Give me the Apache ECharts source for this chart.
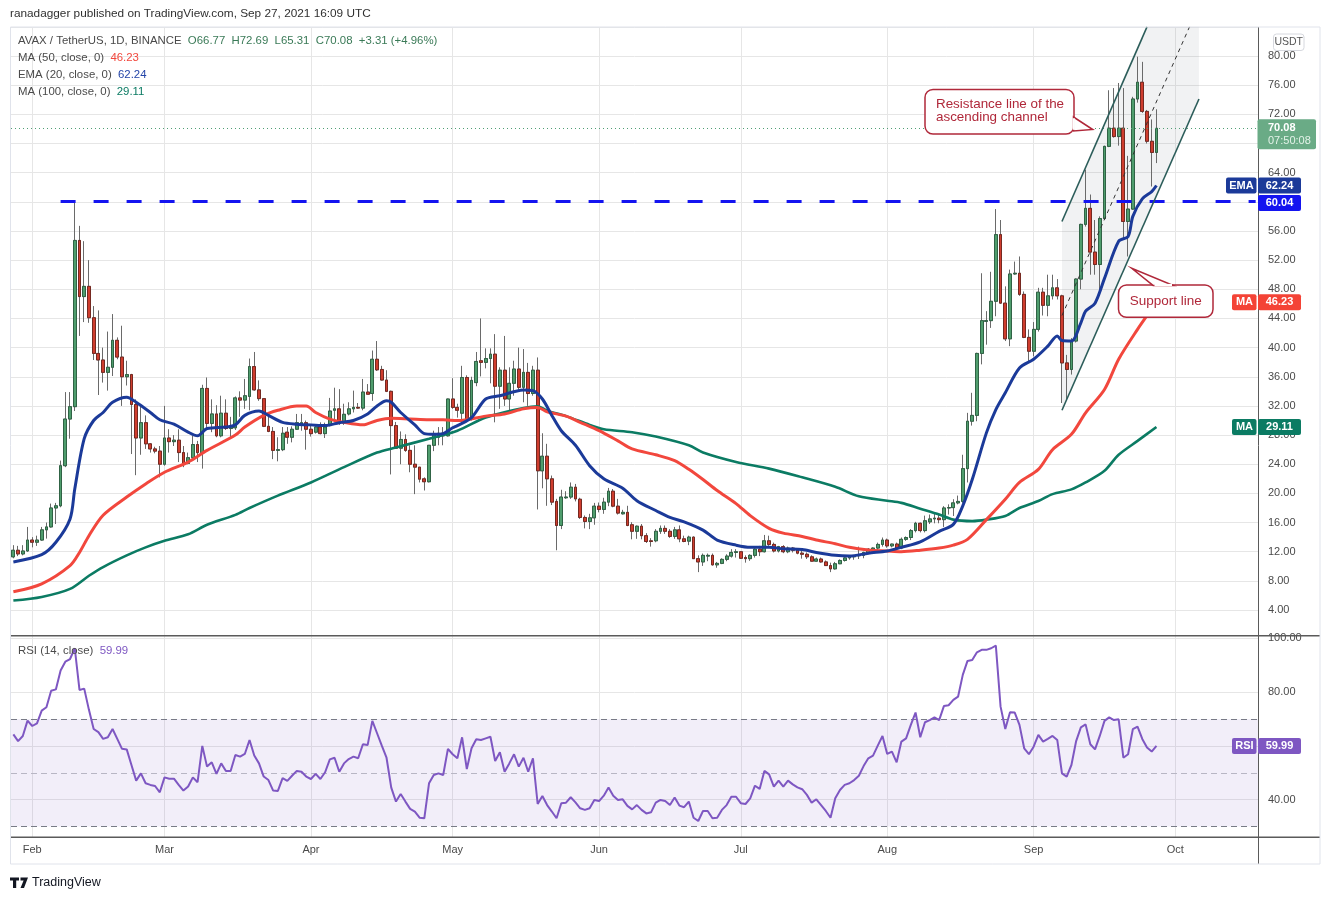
<!DOCTYPE html>
<html>
<head>
<meta charset="utf-8">
<title>AVAX / TetherUS 1D</title>
<script src="https://cdn.jsdelivr.net/npm/echarts/dist/echarts.min.js"></script>
<style>html,body{margin:0;padding:0;background:#fff;}#chart{width:1330px;height:900px;}</style>
</head>
<body>
<div id="chart"></div>
<script>
// ---------------- DATA ----------------
const symbolTitle = 'AVAX / TetherUS, 1D, BINANCE';
const publishedText = 'ranadagger published on TradingView.com, Sep 27, 2021 16:09 UTC';
const firstDate = '2021-01-28';
const lastAxisDate = '2021-10-18';
const monthNames = ['Jan','Feb','Mar','Apr','May','Jun','Jul','Aug','Sep','Oct','Nov','Dec'];

// candles: [open, close, low, high]
const candlesJan = [[11.3,12.2,11.1,12.9],[12.2,11.7,11.4,12.8],[11.7,12.1,11.5,12.9],[12.1,13.6,12.0,15.4]];
const candlesFeb = [
 [13.6,13.3,12.6,14.0],[13.3,13.6,12.8,14.2],[13.6,15.0,13.5,15.4],[15.0,15.4,13.8,16.0],[15.4,18.0,15.3,18.6],
 [18.0,18.3,15.8,18.7],[18.3,23.8,18.1,24.5],[23.8,30.2,23.6,33.9],[30.2,31.9,27.5,33.9],[31.9,54.7,31.3,60.04],
 [54.7,47.0,41.6,56.7],[47.0,48.4,43.5,54.6],[48.4,44.1,43.4,52.0],[44.1,39.2,38.3,45.7],[39.2,38.3,33.5,45.1],
 [38.3,36.6,35.2,40.0],[36.6,37.3,34.1,42.2],[37.3,41.0,36.1,44.6],[41.0,38.7,38.4,41.4],[38.7,36.0,32.0,43.0],
 [36.0,36.3,34.8,38.2],[36.3,32.2,25.4,36.4],[32.2,27.6,22.5,32.9],[27.6,29.7,25.3,32.0],[29.7,26.8,26.1,30.7],
 [26.8,26.1,25.6,26.9],[26.1,25.8,25.5,26.4],[25.8,24.0,22.2,26.5]];
const candlesMar = [
 [24.0,27.6,23.8,32.0],[27.6,27.1,25.6,28.8],[27.1,27.3,26.5,28.0],[27.3,25.6,24.3,28.8],[25.6,24.1,23.6,26.5],
 [24.1,24.9,24.0,25.6],[24.9,26.7,24.5,27.9],[26.7,25.6,24.3,27.2],[25.6,34.4,23.4,34.9],[34.4,29.6,28.9,35.9],
 [29.6,30.9,28.4,32.9],[30.9,27.9,27.7,32.1],[27.9,31.0,27.7,33.4],[31.0,28.9,28.7,32.9],[28.9,29.2,27.5,30.5],
 [29.0,33.1,28.7,33.3],[33.1,32.8,30.5,34.0],[32.8,33.4,31.6,35.7],[33.3,37.4,31.4,38.5],[37.4,34.2,34.1,39.4],
 [34.2,33.0,32.7,35.5],[33.0,29.2,29.1,33.0],[29.2,28.5,28.4,30.9],[28.5,25.9,24.7,29.1],[25.9,26.0,24.4,27.7],
 [26.0,28.25,25.8,29.1],[28.4,27.7,26.8,29.1],[27.7,28.8,27.0,29.2],[28.8,29.7,28.7,30.9],[29.5,29.7,28.6,30.9],
 [29.7,28.8,26.0,30.0]];
const candlesApr = [
 [28.8,28.2,27.8,29.5],[28.4,29.1,28.2,29.5],[29.1,28.2,28.1,29.75],[28.2,29.1,27.6,29.7],[29.3,31.3,29.2,33.1],
 [31.4,31.6,29.75,34.5],[31.6,29.65,29.4,34.3],[29.65,30.85,29.4,32.3],[30.9,31.6,30.7,32.5],[31.6,31.8,31.1,34.1],
 [31.8,31.7,31.6,32.4],[31.7,33.9,31.4,35.7],[33.9,33.6,33.6,35.0],[33.7,38.4,32.7,39.6],[38.4,36.95,36.8,40.9],
 [37.0,35.55,35.5,37.5],[35.55,34.0,33.9,36.9],[34.0,29.3,22.6,34.1],[29.3,26.2,26.1,29.8],[26.2,27.4,24.0,28.5],
 [27.4,25.9,25.7,28.1],[25.9,24.0,22.9,26.6],[24.0,23.6,19.9,26.6],[23.6,21.95,21.5,23.6],[22.0,21.6,20.4,22.2],
 [21.6,26.6,21.5,26.6],[26.6,28.0,25.8,28.6],[27.7,28.25,26.6,29.1],[28.25,27.9,26.6,29.1],[27.9,32.95,27.8,33.0]];
const candlesMay = [
 [32.95,31.8,31.6,35.8],[31.8,31.4,30.4,32.3],[31.0,35.9,29.75,37.5],[35.9,30.2,29.75,36.2],[30.3,35.5,30.0,36.0],
 [35.2,38.1,34.7,39.4],[38.2,37.97,36.05,44.0],[37.97,38.5,37.15,39.9],[38.5,39.1,35.1,39.9],[39.1,34.7,29.75,41.85],
 [34.7,36.9,31.6,37.3],[36.9,32.95,32.0,41.6],[32.95,35.1,30.9,37.3],[35.1,37.06,33.4,38.2],[37.06,34.55,34.1,40.0],
 [34.55,36.6,32.5,39.8],[36.6,33.7,32.0,37.9],[33.7,36.9,33.4,37.5],[36.9,23.1,17.8,38.65],[23.1,25.1,20.7,28.25],
 [25.1,22.0,18.3,26.8],[22.0,18.8,18.4,22.45],[18.9,15.6,12.2,19.25],[15.6,19.5,15.1,20.5],[19.4,19.5,19.25,20.3],
 [19.5,20.85,19.25,21.5],[20.85,19.25,18.9,21.3],[19.2,16.7,16.5,19.4],[16.7,16.15,15.2,16.97],[16.15,16.65,15.1,17.2],
 [16.65,18.25,15.7,18.7]];
const candlesJun = [
 [18.25,17.8,17.4,18.75],[17.8,18.8,17.2,19.4],[18.8,20.3,18.25,20.75],[20.3,18.25,18.1,20.6],[18.25,17.3,17.1,19.25],
 [17.2,17.4,17.1,17.75],[17.4,15.6,15.5,18.3],[15.7,14.8,13.7,16.05],[14.8,15.5,13.77,15.6],[15.5,14.2,13.7,15.8],
 [14.2,13.4,13.2,14.55],[13.5,13.4,12.7,13.86],[13.5,14.8,13.3,15.1],[14.8,15.2,14.45,15.6],[15.2,14.8,14.45,15.6],
 [14.8,14.1,13.9,15.1],[14.1,15.0,13.77,15.4],[15.0,13.77,13.3,15.6],[13.77,13.4,13.3,14.2],[13.45,14.0,12.9,14.2],
 [14.0,11.05,11.0,14.1],[11.05,10.6,9.2,11.5],[10.6,11.5,10.05,11.75],[11.4,11.5,10.7,11.75],[11.5,10.2,10.1,11.75],
 [10.2,10.4,9.8,10.6],[10.4,10.95,10.3,11.1],[10.95,11.4,10.7,11.65],[11.4,11.9,11.2,12.35],[11.9,12.0,11.2,12.35]];
const candlesJul = [
 [12.0,11.1,11.0,12.1],[11.2,11.05,10.5,11.5],[11.05,11.5,10.75,11.65],[11.5,12.35,11.2,12.5],[12.35,12.0,11.4,12.8],
 [12.0,13.5,11.9,14.3],[13.5,13.0,12.8,14.2],[13.0,12.1,11.9,13.25],[12.1,12.7,11.9,12.8],[12.7,12.0,11.8,12.9],
 [12.0,12.5,11.8,12.7],[12.5,12.2,11.9,12.65],[12.2,11.8,11.65,12.4],[11.8,11.65,11.05,12.1],[11.65,11.3,11.0,11.9],
 [11.3,10.7,10.65,11.5],[10.7,11.0,10.65,11.2],[11.0,10.6,10.5,11.2],[10.6,10.1,10.05,10.8],[10.1,9.65,9.2,10.5],
 [9.65,10.35,9.55,10.6],[10.35,10.8,10.3,10.95],[10.8,11.15,10.65,11.4],[11.15,11.4,10.9,11.5],[11.3,11.45,10.9,11.55],
 [11.45,11.5,11.0,12.7],[11.5,11.9,11.1,12.0],[11.9,12.35,11.65,12.5],[12.35,12.5,12.1,12.6],[12.5,13.0,12.25,13.25],
 [13.0,13.6,12.7,13.95]];
const candlesAug = [
 [13.6,12.8,12.55,13.8],[12.8,13.05,12.6,13.1],[13.05,12.5,12.35,13.25],[12.5,13.7,12.35,13.95],[13.7,13.95,13.5,14.1],
 [13.95,14.9,13.6,15.1],[14.9,15.9,14.65,16.1],[15.9,14.9,14.65,16.0],[14.9,16.25,14.65,16.95],[16.1,16.5,15.8,17.1],
 [16.5,16.6,15.9,17.4],[16.6,16.4,15.9,17.3],[16.4,18.0,15.4,18.25],[18.0,18.05,17.1,18.5],[18.05,18.7,16.9,19.2],
 [18.7,18.9,18.5,19.7],[18.9,23.4,18.7,25.3],[23.4,29.9,21.5,31.05],[29.9,30.7,29.3,33.8],[30.7,39.2,29.9,39.3],
 [39.2,43.7,37.7,50.2],[43.6,43.7,40.4,45.0],[43.7,46.35,42.7,50.4],[46.35,55.5,44.3,59.0],[55.5,46.1,46.0,57.5],
 [46.1,41.2,40.9,48.4],[41.2,50.1,40.2,50.7],[50.1,50.2,50.0,51.8],[50.2,47.3,47.1,52.5],[47.3,41.4,41.3,47.7],
 [41.4,39.5,38.1,42.5]];
const candlesSep = [
 [39.5,42.5,38.8,43.5],[42.5,47.6,42.2,48.2],[47.6,45.8,44.4,48.2],[45.8,47.1,44.3,50.0],[47.1,48.2,46.6,50.0],
 [48.2,47.1,46.6,49.4],[47.1,37.9,32.4,47.25],[37.9,37.0,32.9,39.0],[37.0,40.9,36.3,41.3],[40.9,49.4,40.7,49.5],
 [49.4,56.9,48.0,57.0],[56.9,59.1,56.6,64.4],[59.1,53.1,50.0,61.0],[53.1,51.4,50.0,57.5],[51.4,57.7,47.5,58.0],
 [57.7,67.6,57.5,67.7],[67.6,70.1,67.5,75.3],[70.1,68.95,68.8,75.6],[68.95,70.1,67.7,76.3],[70.1,57.3,55.0,75.6],
 [57.3,59.0,52.5,66.3],[59.0,74.1,58.9,74.4],[74.1,76.4,73.6,79.9],[76.4,72.4,72.2,79.2],[72.4,68.3,68.0,72.6],
 [68.3,66.77,62.1,71.3],[66.77,70.08,65.31,72.69]];

// RSI (14, close), one value per day
const rsiJan = [64.3,61.8,63.7,69.4];
const rsiFeb = [67.4,68.4,73.1,74.35,80.5,81.0,88.0,91.3,92.3,96.3,80.8,81.3,73.4,66.3,65.1,62.6,63.2,66.3,62.6,58.9,58.7,52.9,47.1,49.8,46.1,45.5,45.1,42.75];
const rsiMar = [48.3,47.8,47.8,45.5,43.4,44.9,48.3,46.5,60.0,52.3,53.9,49.6,53.5,50.7,50.7,56.6,56.0,57.0,62.2,56.4,53.5,48.6,47.3,43.4,43.25,48.0,47.0,48.9,50.7,50.4,48.6];
const rsiApr = [47.7,49.6,47.7,50.2,55.0,55.6,50.4,53.5,55.1,56.0,55.4,60.6,60.3,69.3,64.7,60.1,55.6,44.5,39.3,42.1,39.3,36.6,35.6,33.3,33.1,46.1,49.2,49.8,49.2,58.9];
const rsiMay = [56.9,55.4,63.2,51.4,59.1,62.5,62.2,62.8,63.4,54.4,57.6,50.4,53.5,56.9,52.3,55.6,50.4,55.4,38.4,41.4,38.0,35.6,33.1,38.7,38.9,40.9,39.0,36.8,36.2,36.8,39.9];
const rsiJun = [39.5,41.5,44.5,41.5,39.9,40.15,37.7,36.4,38.0,36.2,34.9,35.3,38.9,39.9,39.5,38.0,40.8,37.8,37.2,39.3,33.3,32.1,35.8,35.8,33.1,33.3,36.2,38.0,41.1,41.1];
const rsiJul = [38.7,38.4,40.5,45.2,44.0,50.7,49.4,44.9,47.1,44.9,47.1,45.7,44.6,43.9,41.8,38.9,40.15,38.0,35.8,33.3,40.5,43.6,45.5,46.1,47.3,48.9,52.5,55.4,56.4,60.1,63.7];
const rsiAug = [57.0,57.9,53.9,61.6,62.8,67.8,72.4,63.2,68.8,69.6,70.6,69.6,74.8,75.1,77.1,78.3,86.4,91.6,91.9,94.8,95.7,95.7,96.3,97.3,74.6,66.3,72.5,72.4,67.8,59.1,56.9];
const rsiSep = [59.7,64.1,61.6,62.6,63.7,62.2,49.8,48.6,52.9,61.8,66.9,68.0,60.6,58.7,63.7,69.3,70.6,69.6,69.9,55.6,56.9,66.2,67.2,62.6,59.4,57.9,59.99];

// Moving averages: [date, value]
const ema20Points = [['2021-01-28',10.6],['2021-02-03',11.6],['2021-02-06',13.3],['2021-02-09',16.5],['2021-02-10',20.6],['2021-02-12',27.5],['2021-02-14',30.0],['2021-02-16',31.1],['2021-02-18',32.5],['2021-02-21',33.2],['2021-02-23',32.5],['2021-02-26',31.1],['2021-02-28',30.1],['2021-03-03',29.5],['2021-03-06',28.4],['2021-03-08',27.9],['2021-03-10',28.9],['2021-03-14',29.1],['2021-03-16',29.4],['2021-03-18',30.7],['2021-03-21',31.3],['2021-03-23',30.7],['2021-03-26',29.75],['2021-03-29',29.5],['2021-04-01',29.4],['2021-04-04',29.3],['2021-04-07',29.7],['2021-04-10',30.0],['2021-04-13',30.9],['2021-04-15',32.0],['2021-04-17',32.7],['2021-04-18',32.5],['2021-04-20',31.1],['2021-04-23',29.4],['2021-04-25',28.2],['2021-04-27',28.1],['2021-04-29',28.2],['2021-05-01',29.0],['2021-05-02',29.3],['2021-05-05',30.4],['2021-05-08',32.95],['2021-05-11',33.4],['2021-05-16',34.2],['2021-05-18',34.1],['2021-05-20',32.95],['2021-05-22',30.7],['2021-05-24',28.6],['2021-05-27',26.6],['2021-05-30',23.8],['2021-06-02',22.0],['2021-06-06',20.7],['2021-06-09',19.0],['2021-06-13',17.65],['2021-06-16',16.7],['2021-06-19',16.1],['2021-06-23',14.97],['2021-06-26',13.6],['2021-06-30',12.9],['2021-07-03',12.6],['2021-07-07',12.6],['2021-07-10',12.4],['2021-07-14',12.3],['2021-07-17',11.9],['2021-07-21',11.5],['2021-07-24',11.4],['2021-07-28',11.8],['2021-08-01',12.1],['2021-08-04',12.6],['2021-08-08',13.35],['2021-08-12',14.8],['2021-08-15',15.75],['2021-08-17',18.3],['2021-08-19',21.9],['2021-08-22',28.3],['2021-08-24',31.5],['2021-08-26',33.8],['2021-08-29',37.2],['2021-09-01',38.4],['2021-09-04',40.2],['2021-09-06',41.6],['2021-09-07',40.96],['2021-09-09',40.9],['2021-09-11',43.4],['2021-09-12',45.0],['2021-09-14',46.1],['2021-09-16',49.5],['2021-09-19',54.6],['2021-09-21',55.25],['2021-09-22',58.0],['2021-09-24',60.4],['2021-09-26',61.4],['2021-09-27',62.24]];
const ma50Points = [['2021-01-28',6.5],['2021-02-03',7.6],['2021-02-09',10.1],['2021-02-11',11.9],['2021-02-13',14.2],['2021-02-16',17.0],['2021-02-21',19.5],['2021-02-25',21.3],['2021-03-01',22.9],['2021-03-06',24.3],['2021-03-10',25.9],['2021-03-16',28.0],['2021-03-18',29.1],['2021-03-22',30.7],['2021-03-25',31.4],['2021-03-29',32.0],['2021-03-31',32.0],['2021-04-02',31.1],['2021-04-05',30.2],['2021-04-08',29.75],['2021-04-12',29.4],['2021-04-15',30.0],['2021-04-18',30.3],['2021-04-22',30.2],['2021-04-26',30.1],['2021-04-29',30.1],['2021-05-02',30.0],['2021-05-08',30.6],['2021-05-12',30.9],['2021-05-16',31.6],['2021-05-19',31.8],['2021-05-21',31.2],['2021-05-25',30.6],['2021-05-28',29.75],['2021-06-01',28.6],['2021-06-05',27.2],['2021-06-08',26.1],['2021-06-13',25.3],['2021-06-17',24.5],['2021-06-20',23.3],['2021-06-23',21.9],['2021-06-26',20.4],['2021-06-30',18.6],['2021-07-03',16.95],['2021-07-07',15.2],['2021-07-10',14.55],['2021-07-14',14.1],['2021-07-17',13.6],['2021-07-21',13.1],['2021-07-24',12.6],['2021-07-28',12.25],['2021-08-01',12.1],['2021-08-04',12.0],['2021-08-08',12.2],['2021-08-12',12.5],['2021-08-15',12.9],['2021-08-18',13.7],['2021-08-22',16.4],['2021-08-26',19.2],['2021-08-29',21.5],['2021-09-02',23.3],['2021-09-05',26.0],['2021-09-09',28.1],['2021-09-12',31.05],['2021-09-16',34.25],['2021-09-19',38.4],['2021-09-23',42.5],['2021-09-26',45.3],['2021-09-27',46.23]];
const ma100Points = [['2021-01-28',5.3],['2021-02-03',5.8],['2021-02-09',6.9],['2021-02-13',8.7],['2021-02-16',9.9],['2021-02-21',11.5],['2021-02-25',12.6],['2021-03-01',13.5],['2021-03-06',14.4],['2021-03-10',15.7],['2021-03-16',17.05],['2021-03-19',18.0],['2021-03-25',19.7],['2021-04-01',21.5],['2021-04-08',23.6],['2021-04-15',25.6],['2021-04-19',26.3],['2021-04-26',27.5],['2021-05-02',28.6],['2021-05-08',30.4],['2021-05-16',31.7],['2021-05-19',31.95],['2021-05-21',31.35],['2021-05-25',30.6],['2021-05-30',29.4],['2021-06-02',28.8],['2021-06-08',28.4],['2021-06-13',27.8],['2021-06-20',26.6],['2021-06-23',25.6],['2021-06-30',24.3],['2021-07-07',23.4],['2021-07-14',22.2],['2021-07-21',20.9],['2021-07-26',19.6],['2021-08-01',19.0],['2021-08-04',18.7],['2021-08-08',17.9],['2021-08-12',17.1],['2021-08-15',16.4],['2021-08-19',16.2],['2021-08-22',16.4],['2021-08-26',16.9],['2021-08-29',18.0],['2021-09-02',18.95],['2021-09-05',19.9],['2021-09-09',20.55],['2021-09-12',21.5],['2021-09-16',23.1],['2021-09-19',25.3],['2021-09-23',27.2],['2021-09-27',29.11]];

// Drawings
const resistanceLevel = 60.04;
const resistanceStart = '2021-02-07';
const channelLower = [['2021-09-07',31.4],['2021-10-06',74.1]];
const channelUpper = [['2021-09-07',57.3],['2021-09-25',84.0]];
const channelMid = [['2021-09-07',44.4],['2021-10-04',84.0]];
const channelShade = [['2021-09-07',31.4],['2021-10-06',74.1],['2021-10-06',84.0],['2021-09-25',84.0],['2021-09-07',57.3]];
const calloutResistance = ['Resistance line of the', 'ascending channel'];
const calloutSupport = 'Support line';
const countdownText = '07:50:08';
const rsiBandLow = 30, rsiBandHigh = 70, rsiMidLevel = 50;

// ---------------- BUILD ----------------
const candles = [].concat(candlesJan, candlesFeb, candlesMar, candlesApr, candlesMay, candlesJun, candlesJul, candlesAug, candlesSep);
const bodies = candles.map(r => [r[0], r[1], Math.min(r[0], r[1]), Math.max(r[0], r[1])]);
const rsi = [].concat(rsiJan, rsiFeb, rsiMar, rsiApr, rsiMay, rsiJun, rsiJul, rsiAug, rsiSep);

const categories = [];
(function () {
  const d = new Date(firstDate + 'T00:00:00Z');
  const end = new Date(lastAxisDate + 'T00:00:00Z').getTime();
  while (d.getTime() <= end) { categories.push(d.toISOString().slice(0, 10)); d.setUTCDate(d.getUTCDate() + 1); }
})();
const isMonthStart = (i, v) => String(v).slice(8, 10) === '01';

const FONT = "'Liberation Sans', Arial, sans-serif";
const C = {
  up: '#4f9d6d', upBorder: '#245a3b', down: '#cf3d2e', downBorder: '#6c1e17', wick: '#6a6a6a',
  ema: '#1b3a99', ma50: '#f2473d', ma100: '#0b7b63', rsi: '#7e57c2', res: '#1414f0',
  grid: '#e6e6e6', text: '#4a4a4a', sep: '#5a5a5a', callout: '#b0283a', last: '#6aab86'
};

const chart = echarts.init(document.getElementById('chart'), null, { renderer: 'canvas' });
const last = candles[candles.length - 1];
const prevClose = candles[candles.length - 2][1];

chart.setOption({
  animation: false,
  backgroundColor: '#ffffff',
  textStyle: { fontFamily: FONT },
  grid: [
    { left: 11, right: 72, top: 26.84, bottom: 260.8 },
    { left: 11, right: 72, top: 638.3, bottom: 46.5 },
    { left: 13.36, right: 74.36, top: 27, bottom: 62.7 }
  ],
  xAxis: [
    { type: 'category', gridIndex: 0, data: categories, boundaryGap: true, show: false },
    { type: 'category', gridIndex: 1, data: categories, boundaryGap: true, show: false },
    { type: 'category', gridIndex: 2, data: categories, boundaryGap: false,
      axisLine: { show: false }, axisTick: { show: false, interval: isMonthStart },
      axisLabel: { interval: isMonthStart, color: C.text, fontSize: 11, margin: 7,
        formatter: v => monthNames[parseInt(v.slice(5, 7), 10) - 1] },
      splitLine: { show: true, interval: isMonthStart, lineStyle: { color: C.grid, width: 1 } } }
  ],
  yAxis: [
    { type: 'value', gridIndex: 0, position: 'right', min: 0, max: 84, interval: 4,
      axisLine: { show: false }, axisTick: { show: false },
      splitLine: { show: true, showMinLine: false, lineStyle: { color: C.grid } },
      axisLabel: { color: C.text, fontSize: 11, margin: 10, formatter: v => (v === 0 || v === 84) ? '' : v.toFixed(2) } },
    { type: 'value', gridIndex: 1, position: 'right', min: 20, max: 100, interval: 20,
      axisLine: { show: false }, axisTick: { show: false },
      splitLine: { show: true, showMinLine: false, lineStyle: { color: C.grid } },
      axisLabel: { color: C.text, fontSize: 11, margin: 10, formatter: v => v === 20 ? '' : v.toFixed(2) } },
    { type: 'value', gridIndex: 2, show: false, min: 0, max: 1, splitLine: { show: false } }
  ],
  series: [
    { name: 'shade', type: 'custom', xAxisIndex: 0, yAxisIndex: 0, z: 1, silent: true, clip: true,
      data: [0],
      renderItem: function (params, api) {
        const pts = channelShade.map(p => api.coord([categories.indexOf(p[0]), p[1]]));
        return { type: 'polygon', shape: { points: pts }, style: { fill: 'rgba(120,123,134,0.10)' } };
      } },
    { name: 'wicks', type: 'candlestick', xAxisIndex: 0, yAxisIndex: 0, z: 2, barWidth: 3.3, data: candles,
      itemStyle: { color: 'transparent', color0: 'transparent', borderColor: C.wick, borderColor0: C.wick, borderWidth: 1 },
      markLine: { silent: true, symbol: ['none', 'none'], label: { show: false }, animation: false,
        data: [
          [{ coord: [resistanceStart, resistanceLevel], lineStyle: { color: C.res, width: 3, type: [15, 18] } },
           { coord: [categories[categories.length - 1], resistanceLevel] }],
          { yAxis: last[1], lineStyle: { color: '#4f9e74', width: 1, type: [1, 3] } }
        ] } },
    { name: 'bodies', type: 'candlestick', xAxisIndex: 0, yAxisIndex: 0, z: 3, barWidth: 3.3, data: bodies,
      itemStyle: { color: C.up, color0: C.down, borderColor: C.upBorder, borderColor0: C.downBorder, borderWidth: 0.8 } },
    { name: 'MA100', type: 'line', xAxisIndex: 0, yAxisIndex: 0, z: 4, data: ma100Points, showSymbol: false, smooth: 0.3,
      lineStyle: { color: C.ma100, width: 2.6 } },
    { name: 'MA50', type: 'line', xAxisIndex: 0, yAxisIndex: 0, z: 4, data: ma50Points, showSymbol: false, smooth: 0.3,
      lineStyle: { color: C.ma50, width: 3 } },
    { name: 'EMA20', type: 'line', xAxisIndex: 0, yAxisIndex: 0, z: 5, data: ema20Points, showSymbol: false, smooth: 0.3,
      lineStyle: { color: C.ema, width: 3 } },
    { name: 'lower', type: 'line', xAxisIndex: 0, yAxisIndex: 0, z: 6, data: channelLower, showSymbol: false,
      lineStyle: { color: '#2c5d5a', width: 1.6 } },
    { name: 'upper', type: 'line', xAxisIndex: 0, yAxisIndex: 0, z: 6, data: channelUpper, showSymbol: false,
      lineStyle: { color: '#2c5d5a', width: 1.6 } },
    { name: 'mid', type: 'line', xAxisIndex: 0, yAxisIndex: 0, z: 6, data: channelMid, showSymbol: false,
      lineStyle: { color: '#333333', width: 1, type: [4, 4] } },
    { name: 'RSI', type: 'line', xAxisIndex: 1, yAxisIndex: 1, z: 5, data: rsi, showSymbol: false,
      lineStyle: { color: C.rsi, width: 2 },
      markArea: { silent: true, itemStyle: { color: 'rgba(126,87,194,0.10)' }, data: [[{ yAxis: rsiBandLow }, { yAxis: rsiBandHigh }]] },
      markLine: { silent: true, symbol: ['none', 'none'], label: { show: false }, animation: false,
        data: [
          { yAxis: rsiBandHigh, lineStyle: { color: '#787b86', width: 1.2, type: [6, 4] } },
          { yAxis: rsiBandLow, lineStyle: { color: '#787b86', width: 1.2, type: [6, 4] } },
          { yAxis: rsiMidLevel, lineStyle: { color: '#b8b6c4', width: 1, type: [6, 4] } }
        ] } }
  ]
});

// ---------------- OVERLAY (labels, boxes, frame) ----------------
const els = [];
function txt(x, y, text, o) {
  els.push({ type: 'text', z: 100, silent: true,
    style: Object.assign({ x: x, y: y, text: text, fill: C.text, fontSize: 12, fontFamily: FONT,
      textVerticalAlign: 'middle', verticalAlign: 'middle', textAlign: 'left', align: 'left' }, o || {}) });
}
function rect(x, y, w, h, style, r) { els.push({ type: 'rect', z: 99, silent: true, shape: { x: x, y: y, width: w, height: h, r: r || 0 }, style: style }); }
function seg(x1, y1, x2, y2, style) { els.push({ type: 'line', z: 98, silent: true, shape: { x1: x1, y1: y1, x2: x2, y2: y2 }, style: style }); }
function poly(points, style) { els.push({ type: 'polygon', z: 99, silent: true, shape: { points: points }, style: style }); }
const center = { textAlign: 'center', align: 'center' };
const white = { fill: '#ffffff', fontSize: 11, fontWeight: 'bold' };

const yP = v => chart.convertToPixel({ yAxisIndex: 0 }, v);
const yR = v => chart.convertToPixel({ yAxisIndex: 1 }, v);
const lastOf = arr => arr[arr.length - 1][1];
const fmt = v => v.toFixed(2);

// frame & separators
rect(10.5, 27, 1309.5, 837, { fill: 'none', stroke: '#e0e3eb', lineWidth: 1 });
seg(10, 635.7, 1320, 635.7, { stroke: C.sep, lineWidth: 1.6 });
seg(10, 837.3, 1320, 837.3, { stroke: C.sep, lineWidth: 1.6 });
seg(1258.5, 27, 1258.5, 864, { stroke: C.sep, lineWidth: 1 });

// header
txt(10, 14, publishedText, { fill: '#303030', fontSize: 11.8 });
const chg = last[1] - prevClose;
const pct = chg / prevClose * 100;
const LF = 11.4;
const rich = {
  t: { fill: C.text, color: C.text, fontSize: LF, fontFamily: FONT },
  v: { fill: '#3a7a57', color: '#3a7a57', fontSize: LF, fontFamily: FONT },
  r: { fill: C.ma50, color: C.ma50, fontSize: LF, fontFamily: FONT },
  b: { fill: '#2445a8', color: '#2445a8', fontSize: LF, fontFamily: FONT },
  g: { fill: C.ma100, color: C.ma100, fontSize: LF, fontFamily: FONT },
  p: { fill: C.rsi, color: C.rsi, fontSize: LF, fontFamily: FONT }
};
txt(18, 41, '{t|' + symbolTitle + '}  {v|O' + fmt(last[0]) + '  H' + fmt(last[3]) + '  L' + fmt(last[2]) + '  C' + fmt(last[1]) +
  '  +' + fmt(chg) + ' (+' + fmt(pct) + '%)}', { rich: rich, fontSize: LF });
txt(18, 58, '{t|MA (50, close, 0)}  {r|' + fmt(lastOf(ma50Points)) + '}', { rich: rich, fontSize: LF });
txt(18, 75, '{t|EMA (20, close, 0)}  {b|' + fmt(lastOf(ema20Points)) + '}', { rich: rich, fontSize: LF });
txt(18, 92, '{t|MA (100, close, 0)}  {g|' + fmt(lastOf(ma100Points)) + '}', { rich: rich, fontSize: LF });
txt(18, 651, '{t|RSI (14, close)}  {p|' + fmt(rsi[rsi.length - 1]) + '}', { rich: rich, fontSize: LF });

// USDT unit box
rect(1273.5, 34, 30.5, 16.5, { fill: '#ffffff', stroke: '#d6d8de', lineWidth: 1 }, 3);
txt(1288.7, 42.5, 'USDT', Object.assign({ fontSize: 10.5, fill: '#555' }, center));

// axis value boxes
function valBox(v, y, label, color, tag, tagW) {
  rect(1258, y - 8, 43, 16, { fill: color }, 2);
  txt(1279.5, y, label, Object.assign({}, white, center));
  if (tag) {
    rect(1257 - tagW, y - 8, tagW - 0.5, 16, { fill: color }, 2);
    txt(1257 - tagW / 2, y, tag, Object.assign({}, white, center));
  }
}
const yLast = yP(last[1]);
rect(1257.5, yLast - 9, 58.5, 30, { fill: C.last }, 2);
txt(1268, yLast, fmt(last[1]), { fill: '#ffffff', fontSize: 11, fontWeight: 'bold' });
txt(1268, yLast + 13, countdownText, { fill: '#e3f2e8', fontSize: 11 });
valBox(lastOf(ema20Points), yP(lastOf(ema20Points)), fmt(lastOf(ema20Points)), C.ema, 'EMA', 31);
valBox(resistanceLevel, yP(resistanceLevel) + 1.5, fmt(resistanceLevel), C.res);
valBox(lastOf(ma50Points), yP(lastOf(ma50Points)), fmt(lastOf(ma50Points)), '#f44336', 'MA', 25);
valBox(lastOf(ma100Points), yP(lastOf(ma100Points)), fmt(lastOf(ma100Points)), C.ma100, 'MA', 25);
valBox(rsi[rsi.length - 1], yR(rsi[rsi.length - 1]), fmt(rsi[rsi.length - 1]), C.rsi, 'RSI', 25);

// callout: resistance
const calloutStyle = { fill: '#ffffff', stroke: C.callout, lineWidth: 1.5 };
rect(925, 89.5, 149, 44.5, calloutStyle, 8);
poly([[1073.5, 117], [1092.7, 129.5], [1073.5, 131]], calloutStyle);
seg(1073.8, 118.2, 1073.8, 129.8, { stroke: '#ffffff', lineWidth: 2.2 });
els[els.length - 1].z = 100;
txt(936, 104.5, calloutResistance[0], { fill: C.callout, fontSize: 13.4 });
txt(936, 117, calloutResistance[1], { fill: C.callout, fontSize: 13.4 });

// callout: support
rect(1118.5, 285, 94.5, 32.3, calloutStyle, 8);
poly([[1153.3, 285.6], [1131.7, 268.3], [1173.3, 285.6]], calloutStyle);
seg(1154.5, 285, 1172, 285, { stroke: '#ffffff', lineWidth: 2.2 });
els[els.length - 1].z = 100;
txt(1165.7, 301, calloutSupport, Object.assign({ fill: C.callout, fontSize: 13.5 }, center));

// footer logo
poly([[10, 877.5], [19, 877.5], [19, 880.5], [16.2, 880.5], [16.2, 888], [13, 888], [13, 880.5], [10, 880.5]], { fill: '#131722' });
poly([[20.5, 877.5], [28, 877.5], [24, 888], [20.5, 888], [23.6, 880.5], [20.5, 880.5]], { fill: '#131722' });
txt(32, 883, 'TradingView', { fill: '#131722', fontSize: 12.5 });

chart.setOption({ graphic: { elements: els } });
</script>
</body>
</html>
